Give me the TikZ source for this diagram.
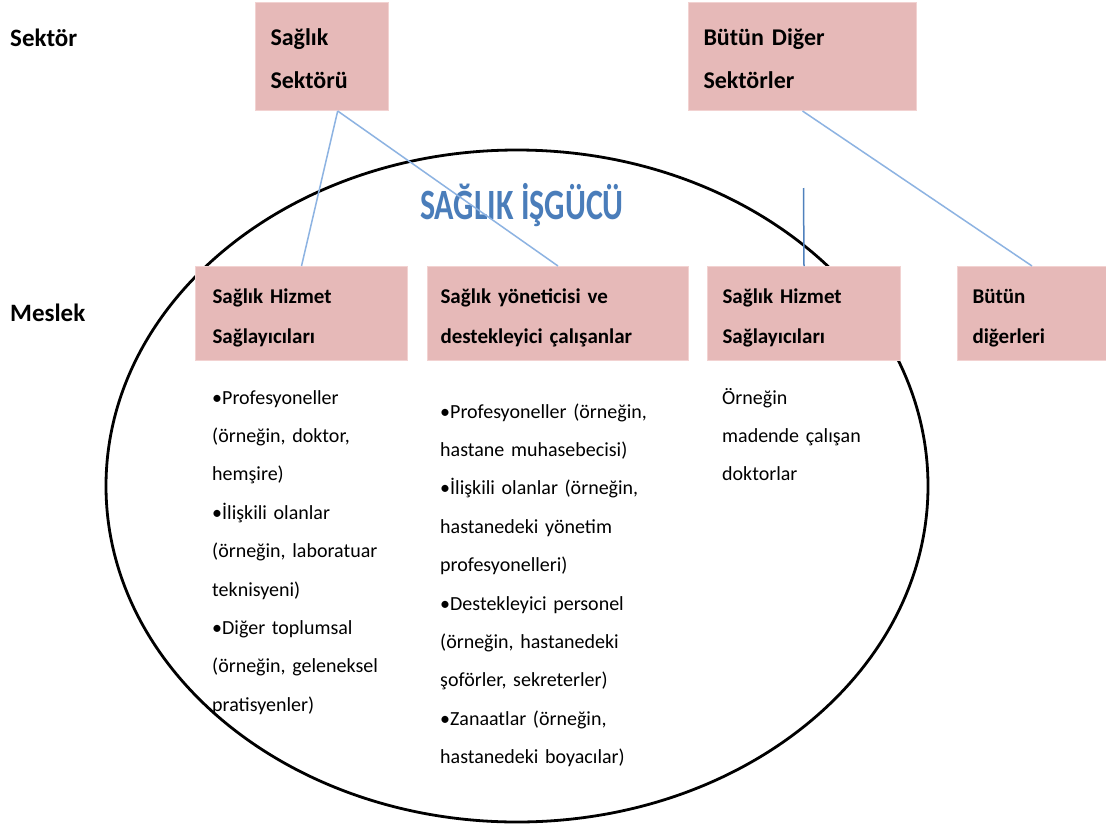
\documentclass[tikz,border=0pt]{standalone}
\usepackage{fontspec}
\setmainfont{Carlito}
\usetikzlibrary{calc}
\definecolor{boxfill}{HTML}{E6B9B8}
\definecolor{boxedge}{HTML}{F2D2D1}
\definecolor{linkblue}{HTML}{8DB3E2}
\definecolor{darkblue}{HTML}{4F81BD}
\definecolor{titleblue}{HTML}{4A7DBA}
\newcommand{\toppad}[1]{\rule{0pt}{#1}}
\begin{document}
\begin{tikzpicture}[x=1pt,y=-1pt,
  sectorbox/.style={draw=boxedge, line width=1pt, fill=boxfill, anchor=north west,
    inner xsep=15pt, inner ysep=0pt, align=left,
    font=\fontsize{24}{43}\selectfont\bfseries},
  jobbox/.style={draw=boxedge, line width=1pt, fill=boxfill, anchor=north west,
    inner ysep=0pt, align=left, minimum height=94pt,
    font=\fontsize{21}{40}\selectfont\bfseries},
  rowlabel/.style={anchor=west, inner sep=0pt, font=\fontsize{25}{30}\selectfont\bfseries},
  bodytext/.style={anchor=base west, inner sep=0pt, align=left,
    font=\fontsize{20}{38.4}\selectfont},
  link/.style={draw=linkblue, line width=1.5pt},
  darklink/.style={draw=darkblue, line width=1.5pt}
]
\useasboundingbox (0,0) rectangle (1106,825);
\fill[white] (0,0) rectangle (1106,825);

% ellipse
\draw[line width=2.8pt] (517,486) ellipse [x radius=411pt, y radius=336pt];

% row labels
\node[rowlabel] (lsektor) at (10,38) {Sektör};
\node[rowlabel] (lmeslek) at (10,313) {Meslek};

% sector boxes
\node[sectorbox, text width=103pt, minimum height=108pt] (s1) at (255,2) {\toppad{22pt}Sağlık\\Sektörü};
\node[sectorbox, text width=198pt, minimum height=108pt] (s2) at (688,2) {\toppad{22pt}Bütün Diğer\\Sektörler};

% title
\node[inner sep=0pt, text=titleblue, font=\fontsize{32}{32}\selectfont\bfseries] (title) at (522,205)
  {\scalebox{1}[1.35]{SAĞLIK İŞGÜCÜ}};

% occupation boxes
\node[jobbox, inner xsep=17pt, text width=178pt] (m1) at (195,266) {\toppad{24pt}Sağlık Hizmet\\Sağlayıcıları};
\node[jobbox, inner xsep=13pt, text width=235pt] (m2) at (427,266) {\toppad{24pt}Sağlık yöneticisi ve\\destekleyici çalışanlar};
\node[jobbox, inner xsep=15pt, text width=163pt] (m3) at (707,266) {\toppad{24pt}Sağlık Hizmet\\Sağlayıcıları};
\node[jobbox, inner xsep=15pt, text width=119pt] (m4) at (957,266) {\toppad{24pt}Bütün\\diğerleri};

% connectors
\coordinate (s1foot) at ($(s1.south west)!0.617!(s1.south east)$);
\draw[link] (s1foot) -- (m1.north);
\draw[link] (s1foot) -- (m2.north);
\draw[link] (s2.south) -- (m4.north);
\coordinate (vtop) at (803.5,188);
\draw[darklink] (m3.north) -- (vtop);

% body texts
\node[bodytext, text width=190pt] (t1) at (212,404) {%
•Profesyoneller\\
(örneğin, doktor,\\
hemşire)\\
•İlişkili olanlar\\
(örneğin, laboratuar\\
teknisyeni)\\
•Diğer toplumsal\\
(örneğin, geleneksel\\
pratisyenler)};
\node[bodytext, text width=250pt] (t2) at (440,418) {%
•Profesyoneller (örneğin,\\
hastane muhasebecisi)\\
•İlişkili olanlar (örneğin,\\
hastanedeki yönetim\\
profesyonelleri)\\
•Destekleyici personel\\
(örneğin, hastanedeki\\
şoförler, sekreterler)\\
•Zanaatlar (örneğin,\\
hastanedeki boyacılar)};
\node[bodytext, text width=180pt] (t3) at (722,404) {%
Örneğin\\
madende çalışan\\
doktorlar};
\end{tikzpicture}
\end{document}
